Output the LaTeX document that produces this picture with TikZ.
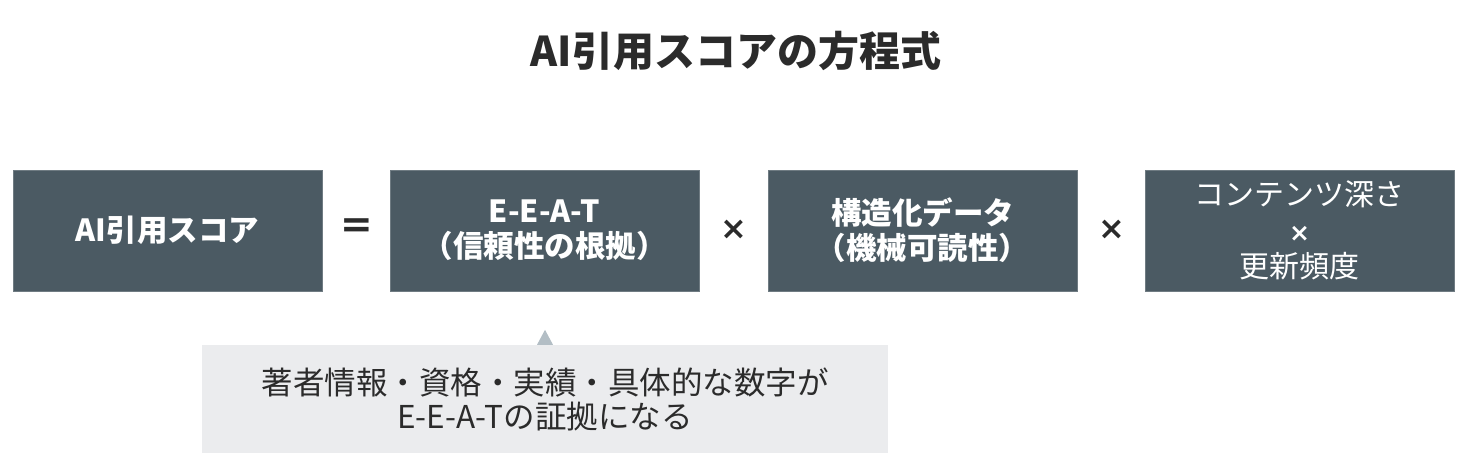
\documentclass[tikz,border=0pt]{standalone}
\usepackage{fontspec}
\setmainfont{Noto Sans CJK JP}
\newfontfamily\signfont{DejaVu Sans}
\definecolor{slatebox}{HTML}{4B5A63}
\definecolor{notefill}{HTML}{EBECEE}
\definecolor{notetip}{HTML}{B3BEC5}
\definecolor{inkdark}{HTML}{2B2B2B}
\begin{document}
\begin{tikzpicture}[x=1pt, y=-1pt,
    termbox/.style={fill=slatebox, draw=slatebox!80!white, minimum width=309pt,
      minimum height=121pt, inner sep=0pt, text=white, align=center,
      font=\fontsize{30.5}{35}\selectfont\bfseries},
    opsign/.style={text=inkdark, inner sep=0pt, font=\fontsize{32}{32}\signfont\bfseries},
    notebox/.style={fill=notefill, minimum width=686pt, minimum height=108pt,
      inner sep=0pt, text=inkdark, align=center,
      font=\fontsize{31.5}{34}\selectfont}]
    \useasboundingbox (0,0) rectangle (1472,476);
    \node[text=inkdark, font=\fontsize{41}{41}\selectfont\bfseries] (title) at (736,51) {AI引用スコアの方程式};
    \node[termbox] (score) at (167.5,230.5) {AI引用スコア};
    \node[termbox] (eeat) at (544.5,230.5) {E-E-A-T\\（信頼性の根拠）};
    \node[termbox] (struct) at (922.5,230.5) {構造化データ\\（機械可読性）};
    \node[termbox, font=\fontsize{30}{36}\selectfont] (depth) at (1299.5,230.5) {コンテンツ深さ\\{\fontsize{25}{36}\signfont\bfseries ×}\\更新頻度};
    \node[opsign, font=\fontsize{39}{39}\signfont\bfseries] (eq) at (356.5,228) {=};
    \node[opsign] (x1) at (734,230) {×};
    \node[opsign] (x2) at (1111.5,230) {×};
    \node[notebox] (note) at (545,399) {著者情報・資格・実績・具体的な数字が\\E-E-A-Tの証拠になる};
    % pointer from the note up to E-E-A-T
    \fill[notetip] ([xshift=-8pt]note.north) -- ([yshift=15pt]note.north) -- ([xshift=8pt]note.north) -- cycle;
\end{tikzpicture}
\end{document}
